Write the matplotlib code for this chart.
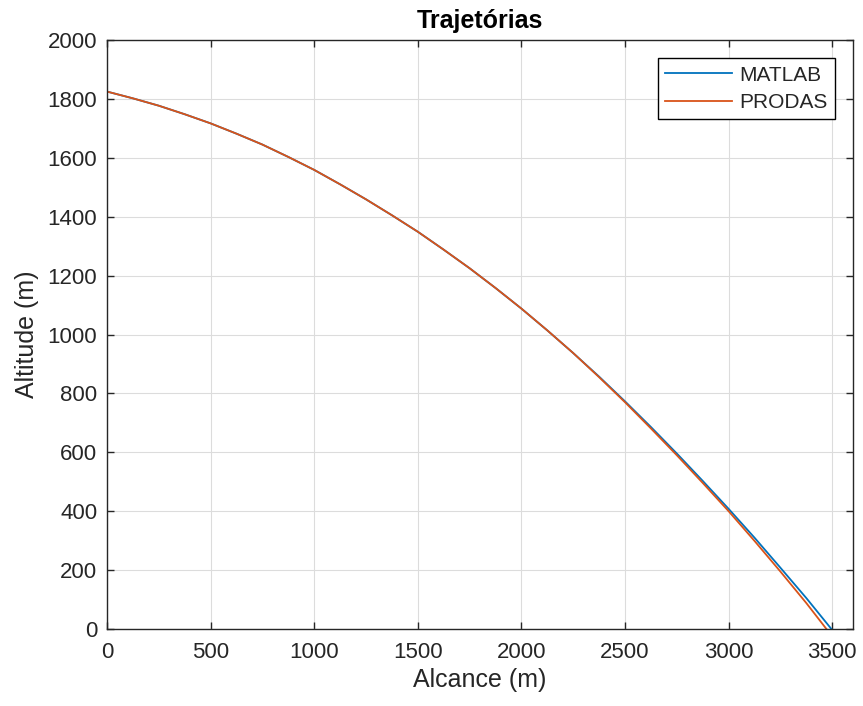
import matplotlib
matplotlib.use("Agg")
import matplotlib.pyplot as plt
import numpy as np

plt.rcParams['font.family'] = ['Liberation Sans', 'DejaVu Sans']

# Trajetorias (alcance x altitude, em metros)
alcance_matlab = [0, 125, 250, 375, 500, 625, 750, 875, 1000, 1125, 1250, 1375, 1500, 1625,
                  1750, 1875, 2000, 2125, 2250, 2375, 2500, 2625, 2750, 2875, 3000, 3125,
                  3250, 3375, 3496]
altitude_matlab = [1825, 1802, 1777, 1748, 1717, 1682, 1645, 1603, 1559, 1510, 1459, 1405,
                   1349, 1288, 1225, 1158, 1088, 1014, 937, 857, 773, 686, 596, 503, 408,
                   310, 208, 105, 0]

alcance_prodas = [0, 125, 250, 375, 500, 625, 750, 875, 1000, 1125, 1250, 1375, 1500, 1625,
                  1750, 1875, 2000, 2125, 2250, 2375, 2500, 2625, 2750, 2875, 3000, 3125,
                  3250, 3375, 3472]
altitude_prodas = [1825, 1802, 1777, 1748, 1717, 1682, 1645, 1603, 1559, 1510, 1459, 1405,
                   1349, 1288, 1225, 1158, 1088, 1014, 937, 855, 770, 681, 590, 496, 400,
                   299, 195, 88, 0]

cor_eixo = '#262626'

fig = plt.figure(figsize=(8.63, 7.06), dpi=100)
ax = fig.add_axes([0.124, 0.109, 0.8644, 0.8343])

ax.plot(alcance_matlab, altitude_matlab, color='#0072BD', lw=1.3, label='MATLAB')
ax.plot(alcance_prodas, altitude_prodas, color='#D95319', lw=1.3, label='PRODAS')

ax.set_xlim(0, 3600)
ax.set_ylim(0, 2000)
ax.set_xticks(np.arange(0, 3501, 500))
ax.set_yticks(np.arange(0, 2001, 200))

ax.grid(True, color='#dcdcdc', lw=0.8)
ax.set_axisbelow(True)

for s in ax.spines.values():
    s.set_color(cor_eixo)
    s.set_linewidth(1.0)

ax.tick_params(axis='both', direction='in', length=5, width=1.0, color=cor_eixo,
               labelcolor=cor_eixo, labelsize=16, top=True, right=True)
ax.tick_params(axis='x', pad=9)
ax.tick_params(axis='y', pad=7)

ax.set_xlabel('Alcance (m)', fontsize=18, color=cor_eixo, labelpad=4)
ax.set_ylabel('Altitude (m)', fontsize=18, color=cor_eixo, labelpad=6)
ax.set_title('Trajetórias', fontsize=18, fontweight='bold', pad=9)

leg = ax.legend(loc='upper right', bbox_to_anchor=(0.976, 0.969), borderaxespad=0,
                fontsize=15, handlelength=3.2, handletextpad=0.35, labelspacing=0.4,
                borderpad=0.35, fancybox=False, framealpha=1, edgecolor='black')
leg.get_frame().set_linewidth(1.0)
for t in leg.get_texts():
    t.set_color(cor_eixo)

plt.savefig('out.png', dpi=100)
